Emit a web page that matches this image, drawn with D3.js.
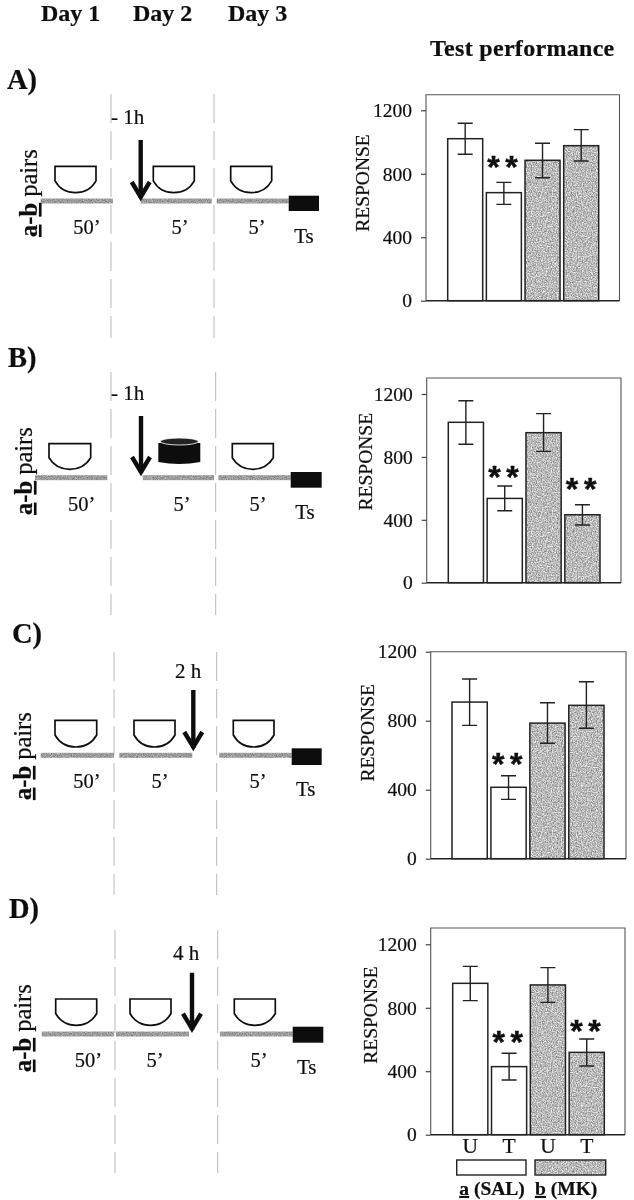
<!DOCTYPE html>
<html><head><meta charset="utf-8">
<script src="https://cdn.jsdelivr.net/npm/d3@7"></script>
<style>
html,body{margin:0;padding:0;background:#fff}
svg{display:block}
text{font-family:"Liberation Serif","Times New Roman",serif;fill:#111;stroke:#111;stroke-width:0.22px}
</style></head><body>
<svg id="fig" width="634" height="1200"></svg>
<script>
// ---- data ----
const categories = ["aU","aT","bU","bT"];
const tickLabels = [0,400,800,1200];
const panelNames = ["A)","B)","C)","D)"];
const dayLabels = ["Day 1","Day 2","Day 3"];
const axisTitle = "RESPONSE";
const barGroups = ["a","a","b","b"];
const barLetters = ["U","T","U","T"];

const responseA = [1021,681,885,977];
const upperA    = [1118,746,992,1078];
const lowerA    = [923,607,775,880];
const starsA    = [0,1,0,0];

const responseB = [1020,536,954,432];
const upperB    = [1157,615,1075,496];
const lowerB    = [880,458,835,367];
const starsB    = [0,1,0,1];

const responseC = [908,414,786,889];
const upperC    = [1042,481,904,1026];
const lowerC    = [773,344,669,756];
const starsC    = [0,1,0,0];

const responseD = [954,429,944,519];
const upperD    = [1061,513,1053,603];
const lowerD    = [845,345,834,433];
const starsD    = [0,1,0,1];

const delayLabels = ["- 1h","- 1h","2 h","4 h"];
const sessionLabels = ["50\u2019","5\u2019","5\u2019"];

// ---- layout ----
const layouts = [
 {name:[7,89], frame:[426,619.5,94.7,300.7], y1200:110.3, bars:[447.7,598.7], title:[369,183], star:[20,0,0,0],
  vx:[111,214], vy:[94,338], strip:201, seg:[[40.7,113],[140.7,211.7],[216.7,288.7]], box:[288.7,319,195.7,211],
  bowl:[[55,96],[153.3,194.3],[230.7,271.7]], bowlY:[166.3,192.7], tx:[87,180,257,304], tb:[234,242.7],
  arrow:[140.7,140,200], delay:[111,124], pair:[37,237]},
 {name:[8,367], frame:[426.7,621,378,582.7], y1200:394, bars:[448.3,600], title:[372.3,461.7], star:[13.7,20.4],
  vx:[111,215.7], vy:[372,615], strip:477.7, seg:[[35,107.3],[142.7,214],[218.3,290.7]], box:[290.7,321.7,472,487.7],
  bowl:[[49,90.7],null,[232.3,273.3]], bowlY:[443.7,469.3], cyl:[158.3,200.3,438,465], tx:[81.7,182,258,305], tb:[510.7,519],
  arrow:[141,416,475], delay:[111,400], pair:[32,515]},
 {name:[12,643], frame:[430.7,626,651.7,858.7], y1200:651.7, bars:[452,604], title:[374.3,732.8], star:[16.7,0],
  vx:[114,216.7], vy:[652,895], strip:755.3, seg:[[40.7,114],[119.3,192.3],[219.3,291.7]], box:[291.7,321.7,748.3,765],
  bowl:[[55,96.7],[134,175],[233.3,274]], bowlY:[720.3,747], tx:[87,160,258,305.7], tb:[787.7,796],
  arrow:[193.3,690,750], delay:[175,678], pair:[31,800]},
 {name:[9,918], frame:[430.7,625,928,1134.7], y1200:944.3, bars:[452.7,604.3], title:[377.3,1015], star:[15.6,13],
  vx:[115,217.7], vy:[930,1173], strip:1034, seg:[[41.7,114],[116,189],[220,292.7]], box:[292.7,323.3,1026.7,1042.7],
  bowl:[[55.7,96.7],[130,171],[234.3,275.3]], bowlY:[999,1025.3], tx:[88.3,155,259,306.7], tb:[1066.7,1074.3],
  arrow:[192,972.7,1031.7], delay:[173,960], pair:[31,1072]}
];

const panels = [
 {v:responseA,hi:upperA,lo:lowerA,s:starsA},
 {v:responseB,hi:upperB,lo:lowerB,s:starsB},
 {v:responseC,hi:upperC,lo:lowerC,s:starsC},
 {v:responseD,hi:upperD,lo:lowerD,s:starsD}
];

const svg = d3.select("#fig");
const defs = svg.append("defs");
function grain(id,gain,off,seed){
  const f = defs.append("filter").attr("id",id).attr("x","0").attr("y","0").attr("width","1").attr("height","1")
    .attr("color-interpolation-filters","sRGB");
  f.append("feTurbulence").attr("type","fractalNoise").attr("baseFrequency","0.8").attr("numOctaves",2).attr("seed",seed).attr("result","n");
  f.append("feColorMatrix").attr("in","n").attr("type","matrix")
    .attr("values",`${gain} 0 0 0 ${off} ${gain} 0 0 0 ${off} ${gain} 0 0 0 ${off} 0 0 0 0 1`).attr("result","g");
  f.append("feComposite").attr("in","g").attr("in2","SourceAlpha").attr("operator","in");
}
grain("grainBar",0.8,0.33,3);
grain("grainStrip",0.5,0.36,7);
const soft = defs.append("filter").attr("id","soft").attr("filterUnits","userSpaceOnUse")
  .attr("x",0).attr("y",0).attr("width",634).attr("height",1200);
soft.append("feGaussianBlur").attr("stdDeviation",0.4);

const root = svg.append("g").attr("filter","url(#soft)");
root.append("rect").attr("width",634).attr("height",1200).attr("fill","#fff");

// headers
root.selectAll(".day").data(dayLabels).join("text").attr("class","day")
  .attr("x",(d,i)=>[41,133,228][i]).attr("y",21).attr("font-size",24).attr("font-weight",700).text(d=>d);
root.append("text").attr("x",430).attr("y",56).attr("font-size",24).attr("font-weight",700).attr("letter-spacing",0.3).text("Test performance");

function bowlPath(x0,x1,t,b){
  const p=d3.path(), w=x1-x0, h=b-t, m=(x0+x1)/2;
  p.moveTo(x0,t); p.lineTo(x1,t); p.lineTo(x1,t+h*0.55);
  p.bezierCurveTo(x1-w*0.12,b-h*0.12,x1-w*0.3,b,m,b);
  p.bezierCurveTo(x0+w*0.3,b,x0+w*0.12,b-h*0.12,x0,t+h*0.55);
  p.closePath();
  return p.toString();
}

panels.forEach((P,k)=>{
  const L = layouts[k], g = root.append("g");
  // panel letter
  g.append("text").attr("x",L.name[0]).attr("y",L.name[1]).attr("font-size",28.5).attr("font-weight",700).text(panelNames[k]);
  // dashed day dividers
  g.selectAll(".v").data(L.vx).join("line").attr("x1",d=>d).attr("x2",d=>d).attr("y1",L.vy[0]).attr("y2",L.vy[1])
    .attr("stroke","#b0b0b0").attr("stroke-width",0.9).attr("stroke-dasharray","29 8");
  // session strips
  g.selectAll(".s").data(L.seg).join("rect").attr("x",d=>d[0]).attr("width",d=>d[1]-d[0]).attr("y",L.strip-2.5).attr("height",5)
    .attr("fill","#999").attr("filter","url(#grainStrip)");
  g.append("rect").attr("x",L.box[0]).attr("width",L.box[1]-L.box[0]).attr("y",L.box[2]).attr("height",L.box[3]-L.box[2]).attr("fill","#111");
  // bowls
  L.bowl.forEach(b=>{ if(b) g.append("path").attr("d",bowlPath(b[0],b[1],L.bowlY[0],L.bowlY[1]))
    .attr("fill","#fff").attr("stroke","#111").attr("stroke-width",1.7); });
  if(L.cyl){
    const [x0,x1,t,b]=L.cyl, m=(x0+x1)/2, rx=(x1-x0)/2;
    g.append("path").attr("d",`M${x0},${t+5}L${x0},${b-3}Q${m},${b+1} ${x1},${b-3}L${x1},${t+5}Z`).attr("fill","#111");
    g.append("ellipse").attr("cx",m).attr("cy",t+3.5).attr("rx",rx-2).attr("ry",3.5).attr("fill","#222").attr("stroke","#fff").attr("stroke-width",0.8);
  }
  // arrow
  const [ax,a0,a1]=L.arrow;
  g.append("line").attr("x1",ax).attr("x2",ax).attr("y1",a0).attr("y2",a1-2).attr("stroke","#111").attr("stroke-width",4.4);
  g.append("path").attr("d",`M${ax-9},${a1-18}L${ax},${a1-3}L${ax+9},${a1-18}`).attr("fill","none").attr("stroke","#111").attr("stroke-width",4.4);
  g.append("text").attr("x",L.delay[0]).attr("y",L.delay[1]).attr("font-size",21).text(delayLabels[k]);
  // session labels
  sessionLabels.forEach((s,i)=>g.append("text").attr("x",L.tx[i]).attr("y",L.tb[0]).attr("text-anchor","middle").attr("font-size",20.5).text(s));
  g.append("text").attr("x",L.tx[3]).attr("y",L.tb[1]).attr("text-anchor","middle").attr("font-size",21).text("Ts");
  // a-b pairs
  const pr = g.append("text").attr("transform",`translate(${L.pair[0]},${L.pair[1]}) rotate(-90)`).attr("font-size",24.5);
  pr.append("tspan").attr("font-weight",700).attr("text-decoration","underline").text("a");
  pr.append("tspan").attr("font-weight",700).text("-");
  pr.append("tspan").attr("font-weight",700).attr("text-decoration","underline").text("b");
  pr.append("tspan").text(" pairs");

  // ---- bar chart ----
  const [fx0,fx1,ft,fb]=L.frame;
  const y = d3.scaleLinear().domain([0,1200]).range([fb,L.y1200]);
  const x = d3.scaleBand().domain(categories).range(L.bars).paddingInner(0.095);
  const c = g.append("g");
  c.append("path").attr("d",`M${fx0},${fb}V${ft}H${fx1}V${fb}`).attr("fill","none").attr("stroke","#555").attr("stroke-width",1.1);
  const ax1 = c.append("g").attr("transform",`translate(${fx0},0)`)
    .call(d3.axisLeft(y).tickValues(tickLabels).tickFormat(d3.format("d")).tickSize(5).tickPadding(9));
  ax1.select(".domain").remove();
  ax1.selectAll(".tick line").attr("stroke","#333").attr("stroke-width",1.1);
  ax1.selectAll(".tick text").attr("font-size",19.5).attr("font-family",'"Liberation Serif"').attr("fill","#111");
  c.append("text").attr("transform",`translate(${L.title[0]},${L.title[1]}) rotate(-90)`).attr("text-anchor","middle").attr("font-size",19.5).text(axisTitle);

  const rows = categories.map((cat,i)=>({cat,g:barGroups[i],v:P.v[i],hi:P.hi[i],lo:P.lo[i],s:P.s[i]}));
  c.selectAll(".barfill").data(rows).join("rect").attr("x",d=>x(d.cat)).attr("width",x.bandwidth())
    .attr("y",d=>y(d.v)).attr("height",d=>y(0)-y(d.v))
    .attr("fill",d=>d.g==="a"?"#fff":"#a8a8a8").attr("filter",d=>d.g==="a"?null:"url(#grainBar)");
  c.selectAll(".baredge").data(rows).join("rect").attr("x",d=>x(d.cat)).attr("width",x.bandwidth())
    .attr("y",d=>y(d.v)).attr("height",d=>y(0)-y(d.v)).attr("fill","none").attr("stroke","#222").attr("stroke-width",1.5);
  c.append("line").attr("x1",fx0).attr("x2",fx1).attr("y1",fb).attr("y2",fb).attr("stroke","#222").attr("stroke-width",1.5);
  // error bars
  const cap=7.5, mid=d=>x(d.cat)+x.bandwidth()/2;
  c.selectAll(".err").data(rows).join("path").attr("fill","none").attr("stroke","#222").attr("stroke-width",1.4)
    .attr("d",d=>`M${mid(d)},${y(d.hi)}V${y(d.lo)}M${mid(d)-cap},${y(d.hi)}h${2*cap}M${mid(d)-cap},${y(d.lo)}h${2*cap}`);
  // significance stars
  let si=0;
  rows.filter(d=>d.s).forEach(d=>{
    const off=L.star[si++];
    c.append("text").attr("x",mid(d)+1.5).attr("y",y(d.hi)-off+15.5).attr("text-anchor","middle")
      .attr("font-size",32).attr("font-weight",700).attr("letter-spacing",5.6)
      .style("font-family",'"Liberation Sans",sans-serif').style("stroke-width","0.5px").text("**");
  });
  // group legend on last panel
  if(k===3){
    rows.forEach((d,i)=>c.append("text").attr("x",mid(d)).attr("y",1153.3).attr("text-anchor","middle").attr("font-size",21.5).text(barLetters[i]));
    const legend=[{g:"a",x0:456.7,x1:526,lab:" (SAL)",tx:459.3},{g:"b",x0:535,x1:605.7,lab:" (MK)",tx:535}];
    legend.forEach(l=>{
      if(l.g==="b") c.append("rect").attr("x",l.x0).attr("y",1160).attr("width",l.x1-l.x0).attr("height",15).attr("fill","#a8a8a8").attr("filter","url(#grainBar)");
      c.append("rect").attr("x",l.x0).attr("y",1160).attr("width",l.x1-l.x0).attr("height",15).attr("fill","none").attr("stroke","#222").attr("stroke-width",1.4);
      const t=c.append("text").attr("x",l.tx).attr("y",1195).attr("font-size",19.5).attr("font-weight",700);
      t.append("tspan").attr("text-decoration","underline").text(l.g);
      t.append("tspan").text(l.lab);
    });
  }
});
</script>
</body></html>
